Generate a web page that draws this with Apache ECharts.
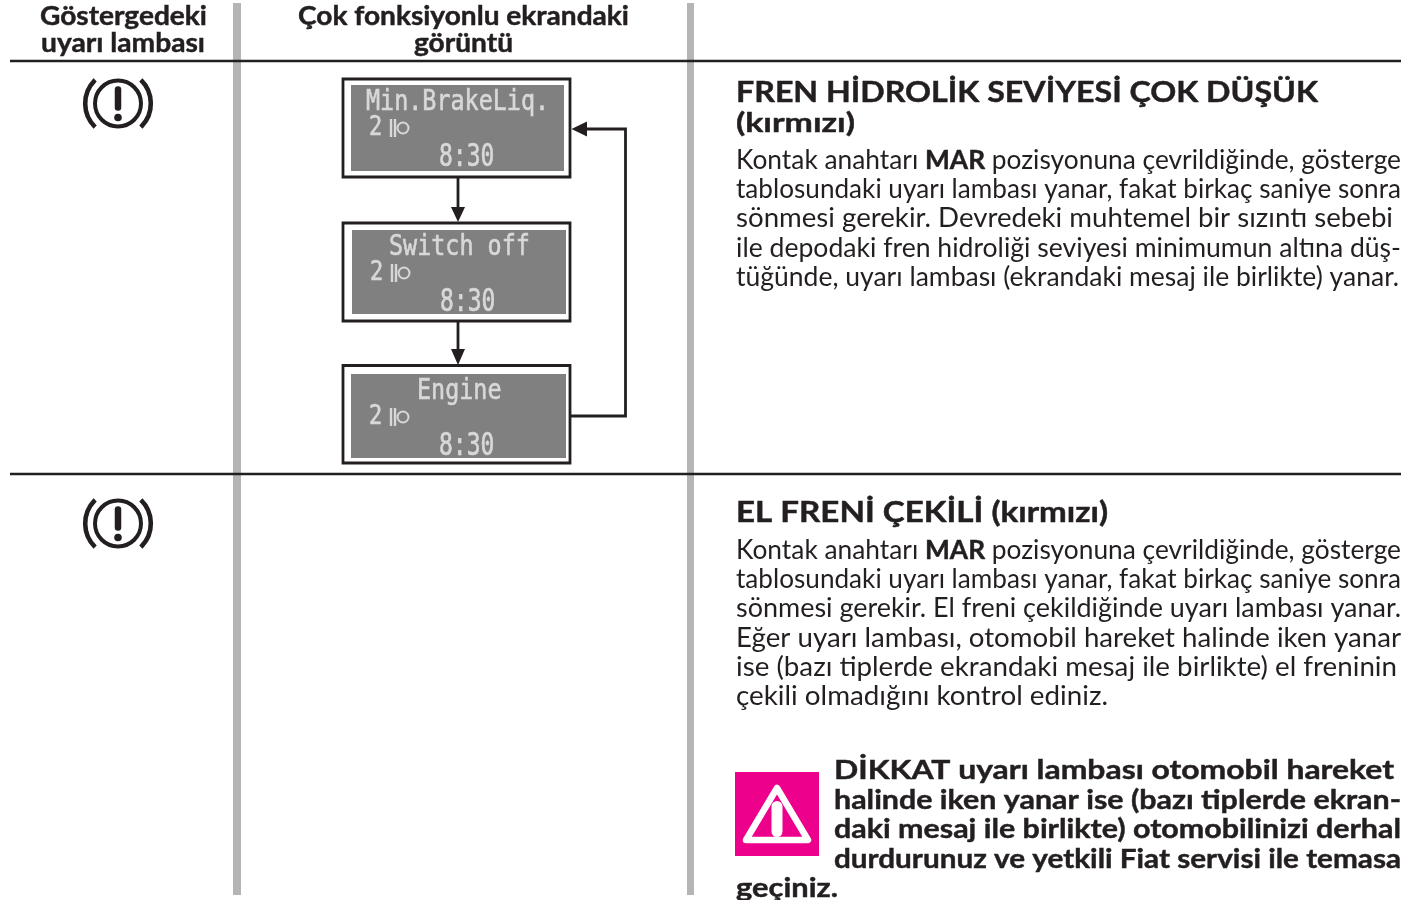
<!DOCTYPE html>
<html lang="tr">
<head>
  <meta charset="utf-8">
  <title>Uyarı lambaları</title>
  <script src="https://cdn.jsdelivr.net/npm/echarts@6/dist/echarts.min.js"></script>
  <style>
    html, body { margin: 0; background: #fff; }
    #main { width: 1407px; height: 900px; }
  </style>
</head>
<body>
<div id="main"></div>
<script>
  // texts, *word* means bold
  var headLeft = ['Göstergedeki', 'uyarı lambası'];
  var headMid = ['Çok fonksiyonlu ekrandaki', 'görüntü'];
  var title1 = ['FREN HİDROLİK SEVİYESİ ÇOK DÜŞÜK', '(kırmızı)'];
  var body1 = [
    'Kontak anahtarı *MAR* pozisyonuna çevrildiğinde, gösterge',
    'tablosundaki uyarı lambası yanar, fakat birkaç saniye sonra',
    'sönmesi gerekir. Devredeki muhtemel bir sızıntı sebebi',
    'ile depodaki fren hidroliği seviyesi minimumun altına düş-',
    'tüğünde, uyarı lambası (ekrandaki mesaj ile birlikte) yanar.'
  ];
  var title2 = ['EL FRENİ ÇEKİLİ (kırmızı)'];
  var body2 = [
    'Kontak anahtarı *MAR* pozisyonuna çevrildiğinde, gösterge',
    'tablosundaki uyarı lambası yanar, fakat birkaç saniye sonra',
    'sönmesi gerekir. El freni çekildiğinde uyarı lambası yanar.',
    'Eğer uyarı lambası, otomobil hareket halinde iken yanar',
    'ise (bazı tiplerde ekrandaki mesaj ile birlikte) el freninin',
    'çekili olmadığını kontrol ediniz.'
  ];
  var warning = [
    'DİKKAT uyarı lambası otomobil hareket',
    'halinde iken yanar ise (bazı tiplerde ekran-',
    'daki mesaj ile birlikte) otomobilinizi derhal',
    'durdurunuz ve yetkili Fiat servisi ile temasa',
    'geçiniz.'
  ];
  var lcdMessages = ['Min.BrakeLiq.', 'Switch off', 'Engine'];
  var lcdGear = '2';
  var lcdClock = '8:30';

  var INK = '#231f20';
  var FONT = 'Lato';
  var ctx = document.createElement('canvas').getContext('2d');
  var els = [];

  function fontOf(size, bold) {
    return (bold ? 'bold ' : '') + size + 'px ' + FONT;
  }
  function width(str, font) {
    ctx.font = font;
    return ctx.measureText(str).width;
  }
  // lays a line out from x0 to x1, squeezing the words to fit like the justified print
  function fitLine(str, x0, x1, y, size, allBold) {
    var runs = str.split('*').map(function (s, i) {
      return { s: s, bold: allBold || i % 2 === 1 };
    }).filter(function (r) { return r.s; });
    var total = 0;
    runs.forEach(function (r) { total += width(r.s, fontOf(size, r.bold)); });
    var k = (x1 - x0) / total;
    var x = x0;
    runs.forEach(function (r) {
      els.push({
        type: 'text', x: x, y: y, scaleX: k, silent: true,
        style: {
          text: r.s, font: fontOf(size, r.bold), fill: INK, align: 'left', verticalAlign: 'middle',
          stroke: r.bold ? INK : 'none', lineWidth: r.bold ? 0.45 : 0
        }
      });
      x += width(r.s, fontOf(size, r.bold)) * k;
    });
  }
  function line(x1, y1, x2, y2, w, color) {
    els.push({
      type: 'line', silent: true,
      shape: { x1: x1, y1: y1, x2: x2, y2: y2 },
      style: { stroke: color || INK, lineWidth: w }
    });
  }
  function rect(x, y, w, h, fill, stroke, lw) {
    els.push({
      type: 'rect', silent: true,
      shape: { x: x, y: y, width: w, height: h },
      style: { fill: fill, stroke: stroke, lineWidth: lw || 0 }
    });
  }
  function head(points) {
    els.push({ type: 'polygon', silent: true, shape: { points: points }, style: { fill: INK } });
  }
  function lamp(cx, cy) {
    els.push({
      type: 'circle', silent: true, shape: { cx: cx, cy: cy, r: 23 },
      style: { fill: 'none', stroke: INK, lineWidth: 4 }
    });
    [Math.PI, 0].forEach(function (mid) {
      els.push({
        type: 'arc', silent: true,
        shape: { cx: cx, cy: cy, r: 32.8, startAngle: mid - 0.8, endAngle: mid + 0.8, clockwise: true },
        style: { fill: 'none', stroke: INK, lineWidth: 4.6 }
      });
    });
    els.push({
      type: 'line', silent: true,
      shape: { x1: cx, y1: cy - 14, x2: cx, y2: cy + 4 },
      style: { stroke: INK, lineWidth: 6.5, lineCap: 'round' }
    });
    els.push({ type: 'circle', silent: true, shape: { cx: cx, cy: cy + 14, r: 3.8 }, style: { fill: INK } });
  }
  function lcd(box, inner, msg, msgX, msgY) {
    rect(box[0], box[1], box[2], box[3], '#fff', INK, 2.8);
    rect(inner[0], inner[1], inner[2], inner[3], '#808080');
    var lit = '#d8d8d8';
    els.push({
      type: 'text', x: msgX, y: msgY, scaleY: 1.2, silent: true,
      style: { text: msg, font: '23.4px "DejaVu Sans Mono"', fill: lit, stroke: lit, lineWidth: 0.5, align: 'left', verticalAlign: 'middle' }
    });
    var dy = inner[1] + 43, x0 = inner[0] + 18;
    els.push({
      type: 'text', x: x0, y: dy, scaleY: 1.2, silent: true,
      style: { text: lcdGear, font: '22px "DejaVu Sans Mono"', fill: lit, stroke: lit, lineWidth: 0.5, align: 'left', verticalAlign: 'middle' }
    });
    line(x0 + 22, dy - 9, x0 + 22, dy + 9, 2.4, lit);
    line(x0 + 26, dy - 9, x0 + 26, dy + 9, 2.4, lit);
    els.push({
      type: 'circle', silent: true, shape: { cx: x0 + 34, cy: dy, r: 5.5 },
      style: { fill: 'none', stroke: lit, lineWidth: 2 }
    });
    els.push({
      type: 'text', x: inner[0] + 88, y: inner[1] + 73, scaleY: 1.35, silent: true,
      style: { text: lcdClock, font: '23px "DejaVu Sans Mono"', fill: lit, stroke: lit, lineWidth: 0.5, align: 'left', verticalAlign: 'middle' }
    });
  }

  // table rules
  rect(233, 3, 8, 892, '#b5b5b5');
  rect(687, 3, 7, 892, '#b5b5b5');
  line(10, 61, 1401, 61, 2.6);
  line(10, 474, 1401, 474, 2.6);

  // column heads
  fitLine(headLeft[0], 40, 207, 17, 26, true);
  fitLine(headLeft[1], 41, 205, 44, 26, true);
  fitLine(headMid[0], 298, 629, 17, 26, true);
  fitLine(headMid[1], 414, 513, 44, 26, true);

  lamp(118, 103.5);
  lamp(118, 523.5);

  // flow of display messages
  line(458, 178, 458, 210, 2.8);
  head([[451, 207], [465, 207], [458, 222]]);
  line(458, 322, 458, 352, 2.8);
  head([[451, 349], [465, 349], [458, 365]]);
  els.push({
    type: 'polyline', silent: true,
    shape: { points: [[571, 416], [625.5, 416], [625.5, 129], [585, 129]] },
    style: { fill: 'none', stroke: INK, lineWidth: 2.8 }
  });
  head([[587, 121.5], [587, 136.5], [571.5, 129]]);
  lcd([343, 79, 227, 98], [351, 85, 213, 86], lcdMessages[0], 366, 103);
  lcd([343, 223, 227, 98], [352, 230, 214, 84], lcdMessages[1], 389, 248);
  lcd([343, 365.5, 227, 97.5], [351, 374, 215, 84], lcdMessages[2], 417, 392);

  // first block
  fitLine(title1[0], 736, 1318, 93, 29, true);
  fitLine(title1[1], 736, 855, 123, 27, true);
  var ends1 = [1401, 1401, 1393, 1401, 1399];
  var ys1 = [160, 189, 218.5, 248, 277];
  body1.forEach(function (s, i) { fitLine(s, 736, ends1[i], ys1[i], 27); });

  // second block
  fitLine(title2[0], 736, 1108, 513, 28, true);
  var ends2 = [1401, 1401, 1401, 1401, 1397, 1108];
  var ys2 = [550, 579, 608.5, 638, 667, 696];
  body2.forEach(function (s, i) { fitLine(s, 736, ends2[i], ys2[i], 27); });

  // warning
  rect(735, 772, 84, 84, '#ec008c');
  els.push({
    type: 'polygon', silent: true,
    shape: { points: [[777, 788], [808, 840], [746, 840]] },
    style: { fill: 'none', stroke: '#fff', lineWidth: 6.5, lineJoin: 'round' }
  });
  els.push({
    type: 'rect', silent: true,
    shape: { x: 771.5, y: 801, width: 11, height: 36, r: 5.5 },
    style: { fill: '#fff' }
  });
  var warnX = [834, 834, 834, 834, 736];
  var warnEnd = [1394, 1401, 1401, 1401, 838];
  var warnY = [770, 800, 829, 859, 888];
  warning.forEach(function (s, i) { fitLine(s, warnX[i], warnEnd[i], warnY[i], 27, true); });

  var chart = echarts.init(document.getElementById('main'));
  chart.setOption({ animation: false, graphic: { elements: els } });
</script>
</body>
</html>
